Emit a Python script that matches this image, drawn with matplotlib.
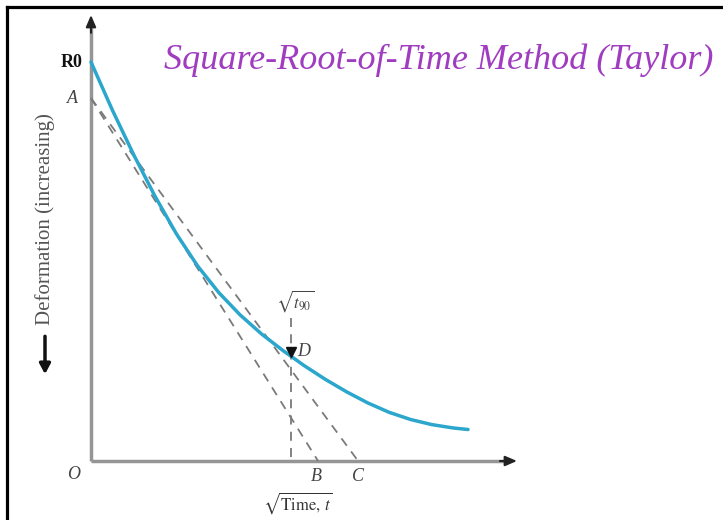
import matplotlib
matplotlib.use("Agg")
import matplotlib.pyplot as plt
from matplotlib.lines import Line2D

# ---- data ----
sqrt_t = [0, 0.5, 1.0, 1.5, 2.0, 2.5, 3.0, 3.5, 4.0, 4.5, 5.0,
          5.5, 6.0, 6.5, 7.0, 7.5, 8.0, 8.5, 8.85]
deform = [0, 1.075, 2.075, 3.005, 3.845, 4.57, 5.17, 5.67, 6.095, 6.465, 6.805,
          7.115, 7.395, 7.645, 7.855, 8.015, 8.13, 8.205, 8.24]
A_def = 0.81          # intercept of the dashed lines on the deformation axis
B_x = 5.33            # intercept of line AB on the time axis
C_x = 6.27            # intercept of line AC on the time axis
t90_x = 4.69          # sqrt(t90)
D_def = 6.60          # deformation at D
x_max = 10.0
d_top, d_axis = -1.054, 8.946

title = "Square-Root-of-Time Method (Taylor)"
ylabel = "Deformation (increasing)"

W, H = 723, 520
fig = plt.figure(figsize=(W / 100, H / 100), dpi=100)
fig.patch.set_facecolor("white")
ax = fig.add_axes([91 / W, 1 - 461 / H, (517 - 91) / W, (461 - 15) / H])
ax.set_xlim(0, x_max)
ax.set_ylim(d_axis, d_top)
ax.axis("off")

serif = ["Liberation Serif", "DejaVu Serif"]
plt.rcParams["mathtext.fontset"] = "stix"

axis_col = "#959595"
# axes lines with arrow heads
ax.plot([0, x_max - 0.25], [d_axis, d_axis], color=axis_col, lw=2.5, clip_on=False, solid_capstyle="butt")
ax.plot([0, 0], [d_axis, d_top + 0.3], color=axis_col, lw=2.5, clip_on=False, solid_capstyle="butt")
ax.annotate("", xy=(x_max, d_axis), xytext=(x_max - 0.4, d_axis),
            arrowprops=dict(arrowstyle="-|>,head_length=0.7,head_width=0.3", color="#222", lw=1.5,
                            shrinkA=0, shrinkB=0), annotation_clip=False)
ax.annotate("", xy=(0, d_top), xytext=(0, d_top + 0.4),
            arrowprops=dict(arrowstyle="-|>,head_length=0.7,head_width=0.3", color="#222", lw=1.5,
                            shrinkA=0, shrinkB=0), annotation_clip=False)

# dashed construction lines
dash = dict(color="#7a7a7a", lw=1.3, ls=(0, (5, 4)), clip_on=False)
ax.plot([0, B_x], [A_def, d_axis], **dash)
ax.plot([0, C_x], [A_def, d_axis], **dash)
ax.plot([t90_x, t90_x], [5.74, d_axis], **dash)

# curve
ax.plot(sqrt_t, deform, color="#2ba6cc", lw=2.5, clip_on=False, solid_capstyle="round",
        solid_joinstyle="round", zorder=3)

# marker at D
ax.plot([t90_x], [D_def - 0.1], marker="v", color="#111", ms=7, zorder=4, clip_on=False)

# labels
lab = dict(family=serif, style="italic", color="#444", fontsize=13, clip_on=False)
ax.text(-0.2, 0.0, "R0", family=serif, weight="bold", fontsize=13, color="#111",
        ha="right", va="center")
ax.text(-0.3, A_def, "A", ha="right", va="center", **lab)
ax.text(-0.4, 9.25, "O", ha="center", va="center", **lab)
ax.text(B_x - 0.05, 9.3, "B", ha="center", va="center", **lab)
ax.text(C_x, 9.3, "C", ha="center", va="center", **lab)
ax.text(t90_x + 0.15, D_def - 0.12, "D", ha="left", va="center", **lab)
ax.text(t90_x + 0.1, 5.35, r"$\sqrt{t_{90}}$", ha="center", va="center", fontsize=12, color="#444")
ax.text(4.85, 9.9, r"$\sqrt{\mathrm{Time},\, t}$", ha="center", va="center", fontsize=12,
        color="#333", clip_on=False)

ax.text(-1.08, 3.52, ylabel, rotation=90, family=serif, fontsize=15, color="#555",
        ha="center", va="center")
ax.annotate("", xy=(-1.08, 7.0), xytext=(-1.08, 6.15),
            arrowprops=dict(arrowstyle="-|>,head_length=0.6,head_width=0.32", color="#111", lw=2.5,
                            shrinkA=0, shrinkB=0), annotation_clip=False)

fig.text(439 / W, 1 - 60 / H, title, family=serif, style="italic", fontsize=26,
         color="#a03cc0", ha="center", va="center")

# frame of the picture
fig.add_artist(Line2D([7 / W, 1], [1 - 7 / H, 1 - 7 / H], transform=fig.transFigure, color="k", lw=2.3))
fig.add_artist(Line2D([7 / W, 7 / W], [0, 1 - 7 / H], transform=fig.transFigure, color="k", lw=2.3))

fig.savefig("out.png", dpi=100)
